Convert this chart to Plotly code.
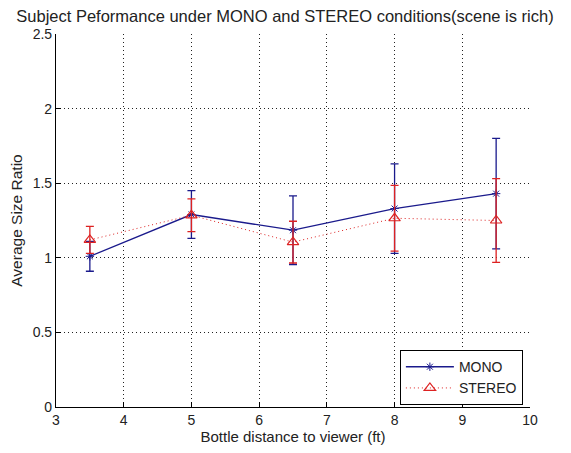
import plotly.graph_objects as go

distance = [3.5, 5, 6.5, 8, 9.5]
mono = [1.01, 1.29, 1.185, 1.33, 1.43]
mono_err = [0.10, 0.16, 0.23, 0.30, 0.37]
stereo = [1.12, 1.285, 1.105, 1.265, 1.25]
stereo_err = [0.09, 0.11, 0.14, 0.22, 0.28]

x_ticks = [3, 4, 5, 6, 7, 8, 9, 10]
y_ticks = [0, 0.5, 1, 1.5, 2, 2.5]

blue = '#1a1a8c'
red = '#dd2222'

fig = go.Figure()

fig.add_trace(go.Scatter(
    x=distance, y=mono, name='MONO',
    mode='lines+markers',
    line=dict(color=blue, width=1.3),
    marker=dict(symbol='asterisk-open', size=7, color=blue, line=dict(color=blue, width=1)),
    error_y=dict(type='data', array=mono_err, color=blue, thickness=1.3, width=4),
))
fig.add_trace(go.Scatter(
    x=distance, y=stereo, name='STEREO',
    mode='lines+markers',
    line=dict(color=red, width=1, dash='1px,3px'),
    marker=dict(symbol='triangle-up-open', size=10, color=red, line=dict(color=red, width=1.2)),
    error_y=dict(type='data', array=stereo_err, color=red, thickness=1.3, width=4),
))

axis_style = dict(
    showline=True, linecolor='black', linewidth=1.2, mirror=False,
    ticks='inside', ticklen=5, tickcolor='black',
    showgrid=True, gridcolor='#222222', gridwidth=1, griddash='1px,3px',
    zeroline=False, automargin=False,
    tickfont=dict(size=14, color='#222222'),
)

fig.update_xaxes(range=[3, 10], tickvals=x_ticks,
                 title=dict(text='Bottle distance to viewer (ft)', font=dict(size=15, color='#222222'), standoff=2),
                 **axis_style)
fig.update_yaxes(range=[0, 2.5], tickvals=y_ticks, ticklabelstandoff=0,
                 title=dict(text='Average Size Ratio', font=dict(size=15.5, color='#222222'), standoff=16),
                 **axis_style)

# the page adds an 8px body margin, so the figure is 8px smaller on each axis
fig.update_layout(
    width=563, height=445,
    margin=dict(l=48, r=41, t=26, b=46),
    paper_bgcolor='white', plot_bgcolor='white',
    font=dict(family='Liberation Sans, Arial, sans-serif', color='#222222'),
    title=dict(text='Subject Peformance under MONO and STEREO conditions(scene is rich)',
               x=0.492, xanchor='center', yref='container', y=1, yanchor='top',
               pad=dict(t=2, b=0), font=dict(size=16.5, color='#222222')),
    legend=dict(x=0.985, y=0.005, xanchor='right', yanchor='bottom',
                bgcolor='white', bordercolor='black', borderwidth=1,
                font=dict(size=14, color='#222222'), tracegroupgap=0,
                itemwidth=48),
    showlegend=True,
)

fig.write_html('out.html')
